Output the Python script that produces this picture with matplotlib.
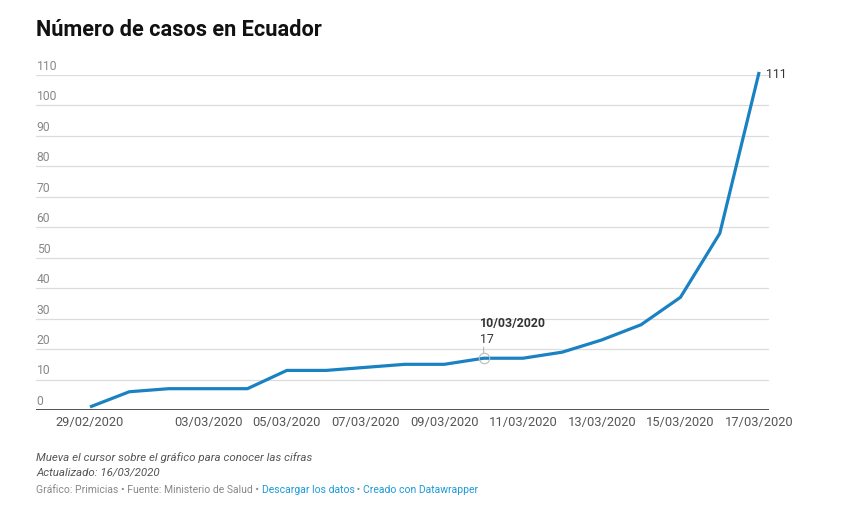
import numpy as np
import matplotlib
matplotlib.use('Agg')
import matplotlib.pyplot as plt

plt.rcParams['font.family'] = ['Roboto', 'DejaVu Sans']

# data
fechas = ['29/02/2020', '01/03/2020', '02/03/2020', '03/03/2020', '04/03/2020',
          '05/03/2020', '06/03/2020', '07/03/2020', '08/03/2020', '09/03/2020',
          '10/03/2020', '11/03/2020', '12/03/2020', '13/03/2020', '14/03/2020',
          '15/03/2020', '16/03/2020', '17/03/2020']
casos = [1, 6, 7, 7, 7, 13, 13, 14, 15, 15, 17, 17, 19, 23, 28, 37, 58, 111]
etiquetas_x = ['29/02/2020', '03/03/2020', '05/03/2020', '07/03/2020', '09/03/2020',
               '11/03/2020', '13/03/2020', '15/03/2020', '17/03/2020']
ticks_y = list(range(0, 111, 10))
destacado = '10/03/2020'

C_LINE = '#1a82c2'
C_GRID = '#dcdcdc'
C_AXIS = '#888888'
C_LINK = '#1a9bd7'

W, H = 854, 520
fig = plt.figure(figsize=(W / 100, H / 100), dpi=100)
ax = fig.add_axes([36 / W, (H - 410) / H, (769 - 36) / W, 335 / H])

x = np.arange(len(fechas))
ax.plot(x, casos, color=C_LINE, linewidth=2.3, solid_joinstyle='round',
        solid_capstyle='butt', zorder=3, clip_on=False)
ax.set_xlim(-1.372, 17.25)
ax.set_ylim(0, 110)

# grid + y labels above lines
for v in ticks_y:
    if v == 0:
        ax.axhline(v, color='#333333', linewidth=1.2, zorder=2)
    else:
        ax.axhline(v, color=C_GRID, linewidth=0.9, zorder=1)
    ax.annotate(str(v), (0, v), xycoords=('axes fraction', 'data'),
                xytext=(0.5, 1.5), textcoords='offset points',
                ha='left', va='bottom', fontsize=8.7, color=C_AXIS)

ax.set_xticks([fechas.index(f) for f in etiquetas_x])
ax.set_xticklabels(etiquetas_x, fontsize=9.3, color='#555555')
ax.tick_params(axis='x', length=0, pad=4)
ax.set_yticks([])
for s in ax.spines.values():
    s.set_visible(False)

# last value label
ax.annotate(str(casos[-1]), (x[-1], casos[-1]), xytext=(5, -2), textcoords='offset points',
            ha='left', va='center', fontsize=8.8, color='#333333', annotation_clip=False)

# highlighted point
i = fechas.index(destacado)
ax.plot(x[i], casos[i], 'o', markersize=7.5, markerfacecolor='none',
        markeredgecolor='#bbbbbb', markeredgewidth=0.8, zorder=4)
ax.annotate('', (x[i], casos[i]), xytext=(0, 8), textcoords='offset points',
            arrowprops=dict(arrowstyle='-', color='#bbbbbb', lw=0.8, shrinkA=0, shrinkB=4))
ax.annotate(str(casos[i]), (x[i], casos[i]), xytext=(-2.5, 9), textcoords='offset points',
            ha='left', va='bottom', fontsize=8.8, color='#333333')
ax.annotate(destacado, (x[i], casos[i]), xytext=(-2.5, 20), textcoords='offset points',
            ha='left', va='bottom', fontsize=8.8, color='#333333', fontweight='bold')

# title
fig.text(36 / W, 1 - 30 / H, 'Número de casos en Ecuador', fontsize=15.7, fontweight='bold',
         color='#111111', ha='left', va='center')

# notes
fig.text(36 / W, 1 - 458 / H, 'Mueva el cursor sobre el gráfico para conocer las cifras',
         fontsize=8.25, style='italic', color='#555555', ha='left', va='center')
fig.text(36 / W, 1 - 472 / H, 'Actualizado: 16/03/2020',
         fontsize=8.25, style='italic', color='#555555', ha='left', va='center')

# footer with links
partes = [('Gráfico: Primicias • Fuente: Ministerio de Salud • ', '#888888'),
          ('Descargar los datos', C_LINK),
          (' • ', '#888888'),
          ('Creado con Datawrapper', C_LINK)]
renderer = fig.canvas.get_renderer()
xpos = 36
for txt, col in partes:
    t = fig.text(xpos / W, 1 - 490 / H, txt, fontsize=7.45, color=col, ha='left', va='center')
    bb = t.get_window_extent(renderer=renderer)
    xpos += bb.width

fig.savefig('out.png', dpi=100)
